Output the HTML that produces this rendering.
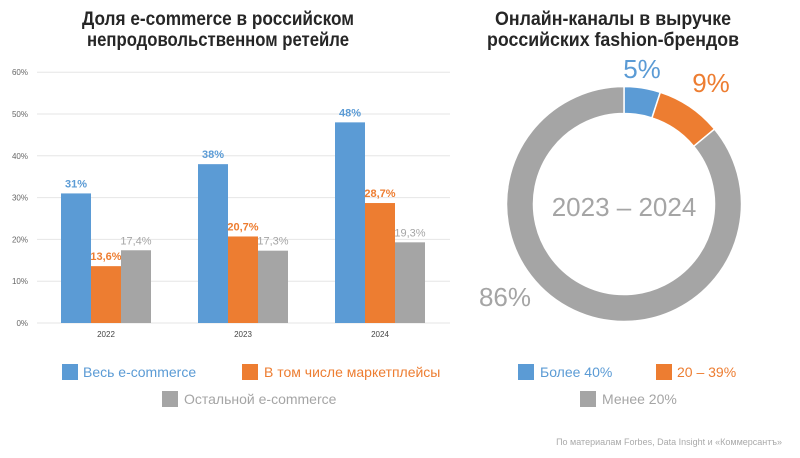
<!DOCTYPE html>
<html><head><meta charset="utf-8">
<style>
html,body{margin:0;padding:0;background:#fff;}
svg{display:block;font-family:"Liberation Sans",sans-serif;}
</style></head>
<body>
<svg id="c" width="800" height="458" viewBox="0 0 800 458" xmlns="http://www.w3.org/2000/svg">
  <g fill="#262626" font-size="19" font-weight="bold" font-family="'Liberation Sans Narrow','Liberation Sans',sans-serif">
    <text x="218" y="25" text-anchor="middle" textLength="272" lengthAdjust="spacingAndGlyphs">Доля e-commerce в российском</text>
    <text x="218" y="46" text-anchor="middle" textLength="262" lengthAdjust="spacingAndGlyphs">непродовольственном ретейле</text>
  </g>
  <g fill="#262626" font-size="19" font-weight="bold" font-family="'Liberation Sans Narrow','Liberation Sans',sans-serif">
    <text x="613" y="25" text-anchor="middle" textLength="236" lengthAdjust="spacingAndGlyphs">Онлайн-каналы в выручке</text>
    <text x="613" y="46" text-anchor="middle" textLength="252" lengthAdjust="spacingAndGlyphs">российских fashion-брендов</text>
  </g>
  <g id="grid"></g>
  <g id="bars"></g>
  <g id="donut"></g>
  <text x="624" y="216" text-anchor="middle" font-size="26" fill="#a5a5a5">2023 – 2024</text>

  <g font-size="14">
    <rect x="62" y="364" width="16" height="16" fill="#5b9bd5"/>
    <text x="83" y="377" fill="#5b9bd5">Весь e-commerce</text>
    <rect x="242" y="364" width="16" height="16" fill="#ed7d31"/>
    <text x="264" y="377" fill="#ed7d31">В том числе маркетплейсы</text>
    <rect x="162" y="391" width="16" height="16" fill="#a5a5a5"/>
    <text x="184" y="404" fill="#a5a5a5">Остальной e-commerce</text>
  </g>
  <g font-size="14">
    <rect x="518" y="364" width="16" height="16" fill="#5b9bd5"/>
    <text x="540" y="377" fill="#5b9bd5">Более 40%</text>
    <rect x="656" y="364" width="16" height="16" fill="#ed7d31"/>
    <text x="677" y="377" fill="#ed7d31">20 – 39%</text>
    <rect x="580" y="391" width="16" height="16" fill="#a5a5a5"/>
    <text x="602" y="404" fill="#a5a5a5">Менее 20%</text>
  </g>
  <text x="782" y="445" text-anchor="end" font-size="9" fill="#aaa">По материалам Forbes, Data Insight и «Коммерсантъ»</text>
</svg>
<script>
const years = ["2022","2023","2024"];
const allEcom = [31, 38, 48];
const marketplaces = [13.6, 20.7, 28.7];
const otherEcom = [17.4, 17.3, 19.3];
const allLabels = ["31%","38%","48%"];
const mpLabels = ["13,6%","20,7%","28,7%"];
const otherLabels = ["17,4%","17,3%","19,3%"];
const yTicks = [0,10,20,30,40,50,60];
const donutShares = [5, 9, 86];
const donutLabels = ["5%","9%","86%"];

const NS = "http://www.w3.org/2000/svg";
const y0 = 323, pxPer = 4.18;
const yS = v => y0 - v * pxPer;
const groupX = i => 106 + i * 137;
function mk(tag, attrs, parent, txt){
  const e = document.createElementNS(NS, tag);
  for (const k in attrs) e.setAttribute(k, attrs[k]);
  if (txt !== undefined) e.textContent = txt;
  parent.appendChild(e); return e;
}
const grid = document.getElementById('grid');
yTicks.forEach(t=>{
  const l = mk('line',{x1:37,x2:450,y1:yS(t),y2:yS(t),stroke:'#e6e6e6','stroke-width':1},grid);
  
  
  const tx = mk('text',{x:28,y:yS(t)+3,'text-anchor':'end','font-size':8,fill:'#666'},grid,t+'%');
  
  
});
const bars = document.getElementById('bars');
const series = [
  {vals:allEcom, labels:allLabels, color:'#5b9bd5', lc:'#5b9bd5', name:'all', bold:true},
  {vals:marketplaces, labels:mpLabels, color:'#ed7d31', lc:'#ed7d31', name:'marketplaces', bold:true},
  {vals:otherEcom, labels:otherLabels, color:'#a5a5a5', lc:'#a5a5a5', name:'other', bold:false}
];
const bw = 30;
years.forEach((yr,i)=>{
  series.forEach((s,j)=>{
    const x = groupX(i) - 45 + j*bw;
    const r = mk('rect',{x:x,y:yS(s.vals[i]),width:bw,height:y0-yS(s.vals[i]),fill:s.color},bars);
    
    
    const t = mk('text',{x:x+bw/2,y:yS(s.vals[i])-6,'text-anchor':'middle','font-size':11,fill:s.lc,'font-weight':s.bold?'bold':'normal'},bars,s.labels[i]);
    
    
  });
  const xl = mk('text',{x:groupX(i),y:337,'text-anchor':'middle','font-size':8,fill:'#444'},bars,yr);
  
  
});
const donut = document.getElementById('donut');
const cx=624, cy=204, R=104, W=27;
const dColors=['#5b9bd5','#ed7d31','#a5a5a5'];
const names=['over-40','20-39','under-20'];
const total = donutShares.reduce((a,b)=>a+b,0);
let acc=0;
const pt=(a,r)=>[cx+r*Math.sin(a), cy-r*Math.cos(a)];
const labelPos=[[642,78,26],[711,92,26],[505,306,26]];
donutShares.forEach((v,i)=>{
  const a0=acc/total*2*Math.PI; acc+=v; const a1=acc/total*2*Math.PI;
  const ro=R+W/2, ri=R-W/2;
  const [x0,y0a]=pt(a0,ro),[x1,y1]=pt(a1,ro),[x2,y2]=pt(a1,ri),[x3,y3]=pt(a0,ri);
  const lg=(a1-a0)>Math.PI?1:0;
  const p=mk('path',{d:`M${x0},${y0a}A${ro},${ro} 0 ${lg} 1 ${x1},${y1}L${x2},${y2}A${ri},${ri} 0 ${lg} 0 ${x3},${y3}Z`,fill:dColors[i],stroke:'#fff','stroke-width':1.5},donut);
  
  
  const lp=labelPos[i];
  const t=mk('text',{x:lp[0],y:lp[1],'text-anchor':'middle','font-size':lp[2],fill:dColors[i]},donut,donutLabels[i]);
  
  
});
</script>
</body></html>
